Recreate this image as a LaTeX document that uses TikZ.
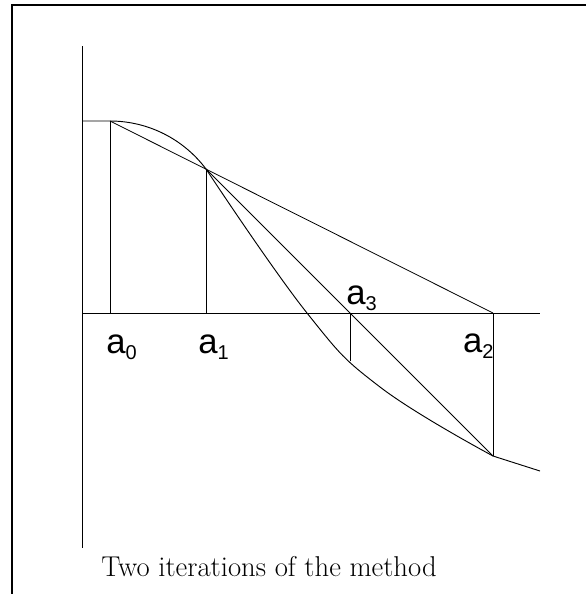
\documentclass[tikz,border=0pt]{standalone}
\usepackage{fontspec}
\newfontfamily\labelfont{Liberation Sans}
\usetikzlibrary{calc}
\newcommand{\asub}[1]{a\raisebox{-4.5pt}{\fontsize{15}{15}\selectfont #1}}

\begin{document}
\begin{tikzpicture}[x=0.75pt, y=-0.75pt, line width=0.6pt,
    lbl/.style={font=\labelfont\fontsize{26}{26}\selectfont, inner sep=0pt},
    fn/.style={line width=0.7pt}]
  \useasboundingbox (0,0) rectangle (586,594);
  % Frame
  \draw[line width=1.2pt] (12,594) -- (12,5) -- (586,5);
  % Axes
  \draw (82,46) -- (82,548);
  \draw (82,313) -- (540,313);
  % Points on the curve
  \coordinate (p0) at (110,121);
  \coordinate (p1) at (206,169);
  \coordinate (p3) at (350,361);
  \coordinate (p2) at (493,456);
  % Function
  \draw[fn] (82,121) -- (p0) arc[start angle=-90, end angle=-36.87, radius=120];
  \draw[fn] plot[smooth, tension=0.7] coordinates {(206,169) (307,313) (380,387) (493,456)}
    -- (540,471);
  % Secants
  \draw (p0) -- (493,313);
  \draw (p1) -- (p2);
  % Verticals
  \draw (p0) -- (110,313);
  \draw (p1) -- (206,313);
  \draw (p3) -- (350,313);
  \draw (p2) -- (493,313);
  % Labels
  \node[lbl, anchor=base west] (la0) at (106,353) {\asub{0}};
  \node[lbl, anchor=base west] (la1) at (198,353) {\asub{1}};
  \node[lbl, anchor=base west] (la3) at (346,304) {\asub{3}};
  \node[lbl, anchor=base east] (la2) at (494,352) {\asub{2}};
  % Caption
  \node[anchor=base, font=\fontsize{21.5}{26}\selectfont, inner sep=0pt] (cap) at (269,576) {Two iterations of the method};
\end{tikzpicture}
\end{document}
